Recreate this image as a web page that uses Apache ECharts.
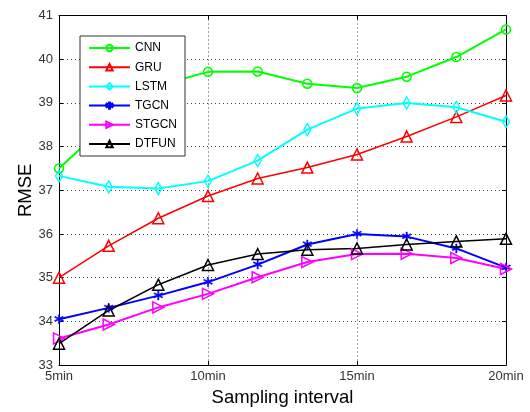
<!DOCTYPE html>
<html>
<head>
<meta charset="utf-8">
<script src="https://cdn.jsdelivr.net/npm/echarts@6/dist/echarts.min.js"></script>
<style>
  html, body { margin: 0; padding: 0; background: #fff; }
  #chart { width: 530px; height: 412px; }
</style>
</head>
<body>
<div id="chart"></div>
<script>
// sampling intervals in minutes (10 steps from 5 to 20)
const intervals = [5, 6.667, 8.333, 10, 11.667, 13.333, 15, 16.667, 18.333, 20];
const xTickLabels = { 5: "5min", 10: "10min", 15: "15min", 20: "20min" };

const cnn = [37.50, 38.55, 39.40, 39.71, 39.72, 39.44, 39.34, 39.60, 40.05, 40.68];
const gru = [35.00, 35.73, 36.36, 36.87, 37.27, 37.52, 37.82, 38.23, 38.68, 39.17];
const lstm = [37.33, 37.08, 37.04, 37.21, 37.68, 38.39, 38.87, 39.00, 38.90, 38.57];
const tgcn = [34.05, 34.31, 34.59, 34.90, 35.30, 35.76, 36.00, 35.94, 35.67, 35.23];
const stgcn = [33.61, 33.93, 34.32, 34.63, 35.01, 35.36, 35.54, 35.55, 35.45, 35.20];
const dtfun = [33.49, 34.25, 34.84, 35.29, 35.54, 35.64, 35.67, 35.76, 35.83, 35.89];

const font = "Liberation Sans, Arial, sans-serif";
const asterisk = "path://M4.4,0 L5.6,0 L5.6,3.6 L8.7,1.8 L9.3,2.9 L6.2,4.7 L9.3,6.5 L8.7,7.6 L5.6,5.8 L5.6,10 L4.4,10 L4.4,5.8 L1.3,7.6 L0.7,6.5 L3.8,4.7 L0.7,2.9 L1.3,1.8 L4.4,3.6 Z";

function pairs(values) {
  return values.map((v, i) => [intervals[i], v]);
}

function makeSeries(name, values, color, symbol, size, opts = {}) {
  return {
    name,
    type: "line",
    data: pairs(values),
    symbol,
    symbolSize: size,
    symbolRotate: opts.rotate || 0,
    showAllSymbol: true,
    lineStyle: { color, width: opts.width || 2 },
    itemStyle: opts.filled
      ? { color, borderColor: color, borderWidth: 0.5 }
      : { color: "rgba(255,255,255,0)", borderColor: color, borderWidth: 1.5 },
    emphasis: { disabled: true },
    animation: false,
  };
}

const chart = echarts.init(document.getElementById("chart"), null, { renderer: "canvas" });

const sideAxis = {
  axisLine: { show: true, lineStyle: { color: "#000", width: 1 } },
  axisTick: { show: true, inside: true, length: 4, lineStyle: { color: "#000" } },
  axisLabel: { show: false },
  splitLine: { show: false },
};

chart.setOption({
  animation: false,
  backgroundColor: "#fff",
  grid: { left: 59, right: 24, top: 15.5, bottom: 45.5 },
  legend: {
    orient: "vertical",
    left: 80,
    top: 36,
    padding: [6, 8, 6, 8],
    itemWidth: 41,
    itemHeight: 8,
    itemGap: 7.2,
    backgroundColor: "#fff",
    borderColor: "#333",
    borderWidth: 1,
    textStyle: { fontFamily: font, fontSize: 12, color: "#000" },
    data: ["CNN", "GRU", "LSTM", "TGCN", "STGCN", "DTFUN"],
  },
  xAxis: [
    {
      type: "value",
      min: 5,
      max: 20,
      interval: 5,
      name: "Sampling interval",
      nameLocation: "middle",
      nameGap: 22,
      nameTextStyle: { fontFamily: font, fontSize: 18.5, color: "#000" },
      axisLine: { show: true, lineStyle: { color: "#000", width: 1 } },
      axisTick: { show: true, inside: true, length: 4, lineStyle: { color: "#000" } },
      axisLabel: {
        fontFamily: font,
        fontSize: 13,
        color: "#333",
        margin: 5,
        formatter: (v) => xTickLabels[v] || "",
      },
      splitLine: { show: true, lineStyle: { color: "#444", type: [1, 3], width: 1 } },
    },
    Object.assign({ type: "value", min: 5, max: 20, interval: 5, position: "top" }, sideAxis),
  ],
  yAxis: [
    {
      type: "value",
      min: 33,
      max: 41,
      interval: 1,
      name: "RMSE",
      nameLocation: "middle",
      nameGap: 24,
      nameMoveOverlap: false,
      nameTextStyle: { fontFamily: font, fontSize: 18.5, color: "#000" },
      axisLine: { show: true, lineStyle: { color: "#000", width: 1 } },
      axisTick: { show: true, inside: true, length: 4, lineStyle: { color: "#000" } },
      axisLabel: { fontFamily: font, fontSize: 13, color: "#333", margin: 6 },
      splitLine: { show: true, lineStyle: { color: "#444", type: [1, 3], width: 1 } },
    },
    Object.assign({ type: "value", min: 33, max: 41, interval: 1, position: "right" }, sideAxis),
  ],
  series: [
    makeSeries("CNN", cnn, "#00ff00", "circle", 9, { width: 2 }),
    makeSeries("GRU", gru, "#ff0000", "triangle", 11, { width: 1.5 }),
    makeSeries("LSTM", lstm, "#00ffff", "diamond", [7, 12], { width: 2 }),
    makeSeries("TGCN", tgcn, "#0000ff", asterisk, 9, { width: 2, filled: true }),
    makeSeries("STGCN", stgcn, "#ff00ff", "triangle", 11, { width: 2, rotate: -90 }),
    makeSeries("DTFUN", dtfun, "#000000", "triangle", 11, { width: 1.5 }),
  ],
});
</script>
</body>
</html>
